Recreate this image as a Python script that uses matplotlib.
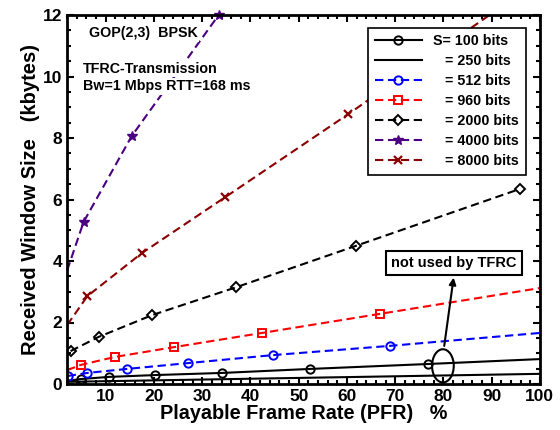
import numpy as np
import matplotlib
matplotlib.use("Agg")
import matplotlib.pyplot as plt
from matplotlib.patches import Ellipse
from matplotlib.ticker import MultipleLocator, AutoMinorLocator

# ==========================================
# DATA
# ==========================================

# S = 100 bits (last point has no marker)
x100 = [2, 4.8, 10.6, 20.2, 34.2, 52.4, 76.8, 100]
y100 = [0.10, 0.16, 0.23, 0.29, 0.36, 0.49, 0.65, 0.81]

# S = 250 bits (line only)
x250 = [2, 100]
y250 = [0.07, 0.33]

# S = 512 bits
x512 = [2.1, 6.2, 14.4, 27.1, 44.7, 68.9, 100]
y512 = [0.26, 0.36, 0.49, 0.68, 0.94, 1.24, 1.66]

# S = 960 bits
x960 = [2, 4.8, 11.9, 24.2, 42.4, 66.8, 100]
y960 = [0.45, 0.62, 0.88, 1.20, 1.66, 2.28, 3.12]

# S = 2000 bits
x2000 = [2.7, 8.5, 19.6, 37.1, 61.8, 95.8]
y2000 = [1.07, 1.53, 2.24, 3.15, 4.49, 6.34]

# S = 4000 bits
x4000 = [2, 5.4, 15.4, 33.4]
y4000 = [3.70, 5.27, 8.07, 12.0]

# S = 8000 bits
x8000 = [2, 6.2, 17.5, 34.8, 60.3, 95]
y8000 = [1.92, 2.86, 4.26, 6.08, 8.78, 12.6]

legend_labels = ["S= 100 bits", "   = 250 bits", "   = 512 bits", "   = 960 bits",
                 "   = 2000 bits", "   = 4000 bits", "   = 8000 bits"]

# ==========================================
# PLOT
# ==========================================

plt.rcParams["font.family"] = ["Liberation Sans", "DejaVu Sans"]
plt.rcParams["font.weight"] = "bold"

fig = plt.figure(figsize=(5.6, 4.3), dpi=100)
ax = fig.add_axes([0.12, 0.107, 0.844, 0.858])

dash = (4, 2.2)
ms = 6
mew = 1.4

ax.plot(x100, y100, color="black", lw=1.5, marker="o", ms=ms, mew=mew,
        mfc="none", markevery=[1, 2, 3, 4, 5, 6], label=legend_labels[0])
ax.plot(x250, y250, color="black", lw=1.5, label=legend_labels[1])
ax.plot(x512, y512, color="blue", lw=1.5, dashes=dash, marker="o", ms=ms, mew=mew,
        mfc="none", markevery=[0, 1, 2, 3, 4, 5], label=legend_labels[2])
ax.plot(x960, y960, color="red", lw=1.5, dashes=dash, marker="s", ms=ms, mew=mew,
        mfc="none", markevery=[1, 2, 3, 4, 5], label=legend_labels[3])
ax.plot(x2000, y2000, color="black", lw=1.5, dashes=dash, marker="D", ms=5.5, mew=mew,
        mfc="none", label=legend_labels[4])
ax.plot(x4000, y4000, color="#4b0082", lw=1.5, dashes=dash, marker="*", ms=7, mew=1.0,
        markevery=[1, 2, 3], clip_on=False, label=legend_labels[5])
ax.plot(x8000, y8000, color="#8b0000", lw=1.5, dashes=dash, marker="x", ms=6, mew=1.6,
        markevery=[1, 2, 3, 4], label=legend_labels[6])

ax.set_xlim(2, 100)
ax.set_ylim(0, 12)
ax.xaxis.set_major_locator(MultipleLocator(10))
ax.xaxis.set_minor_locator(AutoMinorLocator(5))
ax.yaxis.set_major_locator(MultipleLocator(2))
ax.yaxis.set_minor_locator(AutoMinorLocator(4))
ax.tick_params(which="both", direction="in", top=True, right=True, width=1.5,
               labelsize=12.5)
ax.tick_params(which="major", length=5)
ax.tick_params(which="minor", length=3)
for lab in ax.get_xticklabels() + ax.get_yticklabels():
    lab.set_fontweight("bold")
for sp in ax.spines.values():
    sp.set_linewidth(2)

ax.set_xlabel("Playable Frame Rate (PFR)   %", fontsize=14.3, fontweight="bold", labelpad=0)
ax.set_ylabel("Received Window Size   (kbytes)", fontsize=14.5, fontweight="bold",
              labelpad=2)

# texts
tb = dict(facecolor="white", edgecolor="none", pad=1)
ax.text(6.5, 11.4, "GOP(2,3)  BPSK", fontsize=10.3, fontweight="bold", va="center",
        bbox=tb, zorder=5)
ax.text(5.2, 10.25, "TFRC-Transmission", fontsize=10.3, fontweight="bold", va="center",
        bbox=tb, zorder=5)
ax.text(5.2, 9.68, "Bw=1 Mbps RTT=168 ms", fontsize=10.3, fontweight="bold", va="center",
        bbox=tb, zorder=5)

leg = ax.legend(loc="upper right", bbox_to_anchor=(0.985, 0.985), fontsize=10.3,
                handlelength=3.3, labelspacing=0.42, borderpad=0.45,
                fancybox=False, framealpha=1, edgecolor="black")
leg.get_frame().set_linewidth(1.2)
for t in leg.get_texts():
    t.set_fontweight("bold")

# annotation
ax.add_patch(Ellipse((79.9, 0.59), 4.5, 1.08, fill=False, lw=1.5, ec="black", zorder=6))
ax.annotate("", xy=(82.2, 3.55), xytext=(80.1, 1.15),
            arrowprops=dict(arrowstyle="-|>", color="black", lw=1.5, mutation_scale=10),
            zorder=6)
ax.text(82.2, 3.93, "not used by TFRC", fontsize=10.5, fontweight="bold", ha="center",
        va="center", zorder=7,
        bbox=dict(facecolor="white", edgecolor="black", lw=1.5, pad=3.5))

fig.savefig("out.png", dpi=100)
